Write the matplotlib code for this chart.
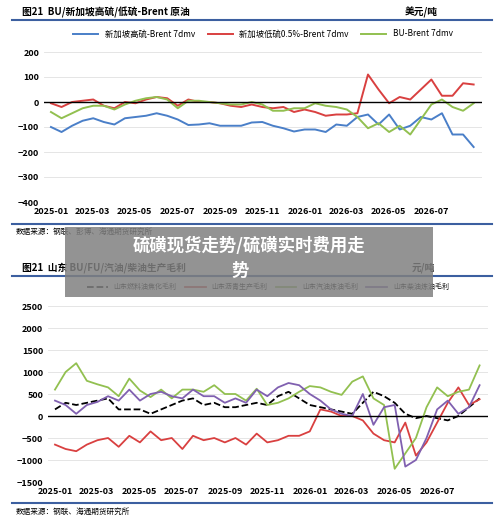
import numpy as np
import pandas as pd
import matplotlib
matplotlib.use("Agg")
import matplotlib.pyplot as plt
import matplotlib.dates as mdates
from matplotlib.patches import Rectangle

plt.rcParams['font.family'] = ['Noto Sans CJK SC', 'DejaVu Sans']

dates = pd.date_range('2025-01-01', '2026-08-31', periods=41)

hs_brent = [-100,-120,-95,-75,-65,-80,-90,-65,-60,-55,-45,-55,-70,-92,-90,-85,-95,-95,-95,-82,
            -80,-95,-105,-118,-110,-110,-120,-90,-95,-60,-50,-90,-50,-110,-95,-60,-70,-45,-130,-130,-180]
ls_brent = [-5,-20,0,5,10,-15,-25,0,-5,10,20,15,-15,10,0,0,-5,-15,-20,-10,
            -20,-25,-20,-40,-30,-40,-55,-50,-50,-45,110,50,-5,20,10,50,90,25,25,75,70]
bu_brent = [-40,-65,-45,-25,-15,-15,-30,-10,5,15,20,10,-25,5,5,0,-5,-10,-10,0,
            -10,-35,-35,-25,-25,-5,-15,-20,-30,-60,-105,-85,-120,-95,-130,-70,-10,10,-20,-35,-5]

fuel_coking = [150,300,250,300,350,400,150,150,150,50,150,250,350,400,250,300,200,200,250,300,
               250,450,550,400,250,200,150,100,50,300,550,450,300,50,-50,0,-50,-100,0,200,400]
asphalt = [-650,-750,-800,-650,-550,-500,-700,-450,-600,-350,-550,-500,-750,-450,-550,-500,-600,-500,-650,-400,
           -600,-550,-450,-450,-350,150,100,0,0,-100,-400,-550,-600,-150,-900,-600,-150,300,650,250,380]
gasoline = [600,1000,1200,800,720,650,450,850,580,430,600,400,600,600,550,700,500,500,350,620,
            250,300,400,550,680,650,550,480,780,900,400,250,-1200,-850,-500,200,650,450,550,600,1150]
diesel = [350,250,50,250,320,450,350,600,350,500,550,450,400,600,450,450,300,400,300,600,
          450,650,750,700,500,350,150,50,0,500,-200,200,250,-1150,-1000,-500,150,350,50,200,700]
tick_labels = ['2025-01', '2025-03', '2025-05', '2025-07', '2025-09', '2025-11',
               '2026-01', '2026-03', '2026-05', '2026-07']

W, H = 500, 525
fig = plt.figure(figsize=(5, 5.25), dpi=100)
fig.patch.set_facecolor('white')

def ax_px(x0, y0, x1, y1):
    return fig.add_axes([x0 / W, 1 - y1 / H, (x1 - x0) / W, (y1 - y0) / H])

def hline(y, color='#3c5fa0', lw=1.5):
    fig.add_artist(plt.Line2D([12 / W, 492 / W], [1 - y / H, 1 - y / H], color=color, lw=lw))

def style(ax, ticks, ylim, xlim):
    ax.set_ylim(*ylim)
    ax.set_yticks(ticks)
    ax.set_xlim(*xlim)
    ax.set_xticks(pd.to_datetime(tick_labels))
    ax.set_xticklabels(tick_labels)
    ax.grid(axis='y', color='#e0e0e0', lw=0.6)
    ax.set_axisbelow(True)
    for s in ax.spines.values():
        s.set_visible(False)
    ax.axhline(0, color='black', lw=1)
    ax.tick_params(length=0, labelsize=6.5)
    for lab in ax.get_xticklabels() + ax.get_yticklabels():
        lab.set_fontweight('bold')

xlim = (pd.Timestamp('2024-12-22'), pd.Timestamp('2026-09-12'))

# Top chart
fig.text(22 / W, 1 - 12 / H, '图21  BU/新加坡高硫/低硫-Brent 原油', fontsize=7, fontweight='bold', va='center')
fig.text(405 / W, 1 - 12 / H, '美元/吨', fontsize=7, fontweight='bold', va='center')
hline(20)
ax1 = ax_px(44, 52, 482, 202)
ax1.plot(dates, hs_brent, color='#4a7fc8', lw=1.4, label='新加坡高硫-Brent 7dmv')
ax1.plot(dates, ls_brent, color='#d94040', lw=1.4, label='新加坡低硫0.5%-Brent 7dmv')
ax1.plot(dates, bu_brent, color='#92c050', lw=1.4, label='BU-Brent 7dmv')
style(ax1, [-400, -300, -200, -100, 0, 100, 200], (-400, 200), xlim)
ax1.legend(loc='lower center', bbox_to_anchor=(0.5, 1.04), ncol=3, frameon=False, fontsize=6, handlelength=3, columnspacing=1.5)
hline(224)
fig.text(16 / W, 1 - 232 / H, '数据来源：钢联、彭博、海通期货研究所', fontsize=5.5, va='center')

# Bottom chart
fig.text(22 / W, 1 - 268 / H, '图21  山东 BU/FU/汽油/柴油生产毛利', fontsize=7, fontweight='bold', va='center')
fig.text(412 / W, 1 - 268 / H, '元/吨', fontsize=7, fontweight='bold', va='center')
hline(276)
ax2 = ax_px(48, 306, 488, 482)
ax2.plot(dates, fuel_coking, color='black', lw=1.3, ls='--', label='山东燃料油焦化毛利')
ax2.plot(dates, asphalt, color='#d94040', lw=1.3, label='山东沥青生产毛利')
ax2.plot(dates, gasoline, color='#92c050', lw=1.3, label='山东汽油炼油毛利')
ax2.plot(dates, diesel, color='#8060b0', lw=1.3, label='山东柴油炼油毛利')
style(ax2, [-1500, -1000, -500, 0, 500, 1000, 1500, 2000, 2500], (-1500, 2500), xlim)
ax2.legend(loc='lower center', bbox_to_anchor=(0.5, 1.05), ncol=4, frameon=False, fontsize=5, handlelength=3, columnspacing=1.2)
hline(503)
fig.text(16 / W, 1 - 512 / H, '数据来源：钢联、海通期货研究所', fontsize=5.5, va='center')

# Overlay title box
fig.add_artist(Rectangle((65 / W, 1 - 297 / H), 368 / W, 70 / H, transform=fig.transFigure,
                         facecolor='#808080', alpha=0.85, edgecolor='none', zorder=10))
fig.text(249 / W, 1 - 246 / H, '硫磺现货走势/硫磺实时费用走', fontsize=12.5, fontweight='bold',
         color='white', ha='center', va='center', zorder=11)
fig.text(240 / W, 1 - 271 / H, '势', fontsize=12.5, fontweight='bold',
         color='white', ha='center', va='center', zorder=11)

fig.savefig('out.png', dpi=100)
